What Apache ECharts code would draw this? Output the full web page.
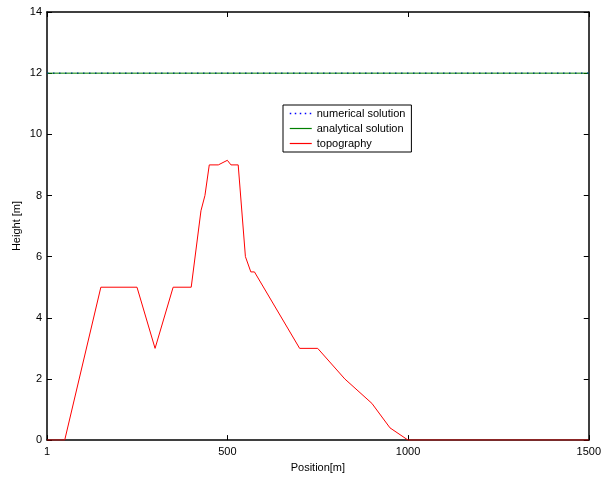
<!DOCTYPE html>
<html>
<head>
<meta charset="utf-8">
<script src="https://cdn.jsdelivr.net/npm/echarts@6/dist/echarts.min.js"></script>
<style>
  html, body { margin: 0; padding: 0; background: #fff; overflow: hidden; }
  #chart { width: 604px; height: 478px; }
</style>
</head>
<body>
<div id="chart"></div>
<script>
// Terrain profile and water-surface solutions along the channel
const topoX = [1, 50, 150, 250, 300, 350, 400, 427, 438, 450, 475, 500, 510, 530, 550, 565, 575, 700, 750, 825, 900, 950, 1000, 1500];
const topoY = [0, 0, 5, 5, 3, 5, 5, 7.5, 8, 9, 9, 9.15, 9, 9, 6, 5.5, 5.5, 3, 3, 2, 1.2, 0.4, 0, 0];
const solX = [1, 1500];
const numericalY = [12, 12];
const analyticalY = [12, 12];
const xTicks = [1, 500, 1000, 1500];
const seriesNames = ['numerical solution', 'analytical solution', 'topography'];

const pairs = (xs, ys) => xs.map((x, i) => [x, ys[i]]);
const font = 'Liberation Sans, Arial, Helvetica, sans-serif';

const chart = echarts.init(document.getElementById('chart'), null, { renderer: 'canvas' });

const tickStyle = () => ({ show: true, inside: true, length: 5, lineStyle: { color: '#000', width: 1 } });
const edgeLine = () => ({ show: true, onZero: false, lineStyle: { color: '#000', width: 1.5 } });

chart.setOption({
  animation: false,
  backgroundColor: '#fff',
  grid: { left: 47, right: 11, top: 12, bottom: 37, show: false },
  legend: {
    orient: 'vertical',
    left: 283,
    top: 105,
    itemWidth: 22,
    itemHeight: 11,
    itemGap: 4,
    padding: [3, 6, 3, 6],
    borderColor: '#000',
    borderWidth: 1,
    backgroundColor: '#fff',
    itemStyle: { opacity: 0 },
    lineStyle: { width: 1.2 },
    textStyle: { fontFamily: font, fontSize: 11, color: '#000' },
    data: [
      { name: seriesNames[0], lineStyle: { color: '#0000ff', width: 1.5, type: [1.5, 3.5] } },
      { name: seriesNames[1] },
      { name: seriesNames[2] }
    ]
  },
  xAxis: [
    {
      type: 'value', min: 1, max: 1500, position: 'bottom',
      name: 'Position[m]', nameLocation: 'middle', nameGap: 19,
      nameTextStyle: { fontFamily: font, fontSize: 11, color: '#000' },
      axisLine: edgeLine(),
      axisTick: Object.assign(tickStyle(), { customValues: xTicks }),
      axisLabel: { customValues: xTicks, formatter: v => String(v), fontFamily: font, fontSize: 11, color: '#000', margin: 6 },
      splitLine: { show: false }
    },
    {
      type: 'value', min: 1, max: 1500, position: 'top',
      axisLine: edgeLine(),
      axisTick: Object.assign(tickStyle(), { customValues: xTicks }),
      axisLabel: { show: false },
      splitLine: { show: false }
    }
  ],
  yAxis: [
    {
      type: 'value', min: 0, max: 14, interval: 2, position: 'left',
      name: 'Height [m]', nameLocation: 'middle', nameGap: 25, nameMoveOverlap: false,
      nameTextStyle: { fontFamily: font, fontSize: 11, color: '#000' },
      axisLine: edgeLine(),
      axisTick: tickStyle(),
      axisLabel: { fontFamily: font, fontSize: 11, color: '#000', margin: 5 },
      splitLine: { show: false }
    },
    {
      type: 'value', min: 0, max: 14, interval: 2, position: 'right',
      axisLine: edgeLine(),
      axisTick: tickStyle(),
      axisLabel: { show: false },
      splitLine: { show: false }
    }
  ],
  series: [
    {
      name: seriesNames[0], type: 'line', symbol: 'none',
      data: pairs(solX, numericalY),
      color: '#0000ff',
      lineStyle: { color: '#0000ff', width: 1.5, type: [1.5, 4.5] },
      z: 2
    },
    {
      name: seriesNames[1], type: 'line', symbol: 'none',
      data: pairs(solX, analyticalY),
      color: '#008000',
      lineStyle: { color: '#008000', width: 1 },
      z: 3
    },
    {
      name: seriesNames[2], type: 'line', symbol: 'none',
      data: pairs(topoX, topoY),
      color: '#ff0000',
      lineStyle: { color: '#ff0000', width: 1 },
      z: 4
    }
  ]
});
</script>
</body>
</html>
